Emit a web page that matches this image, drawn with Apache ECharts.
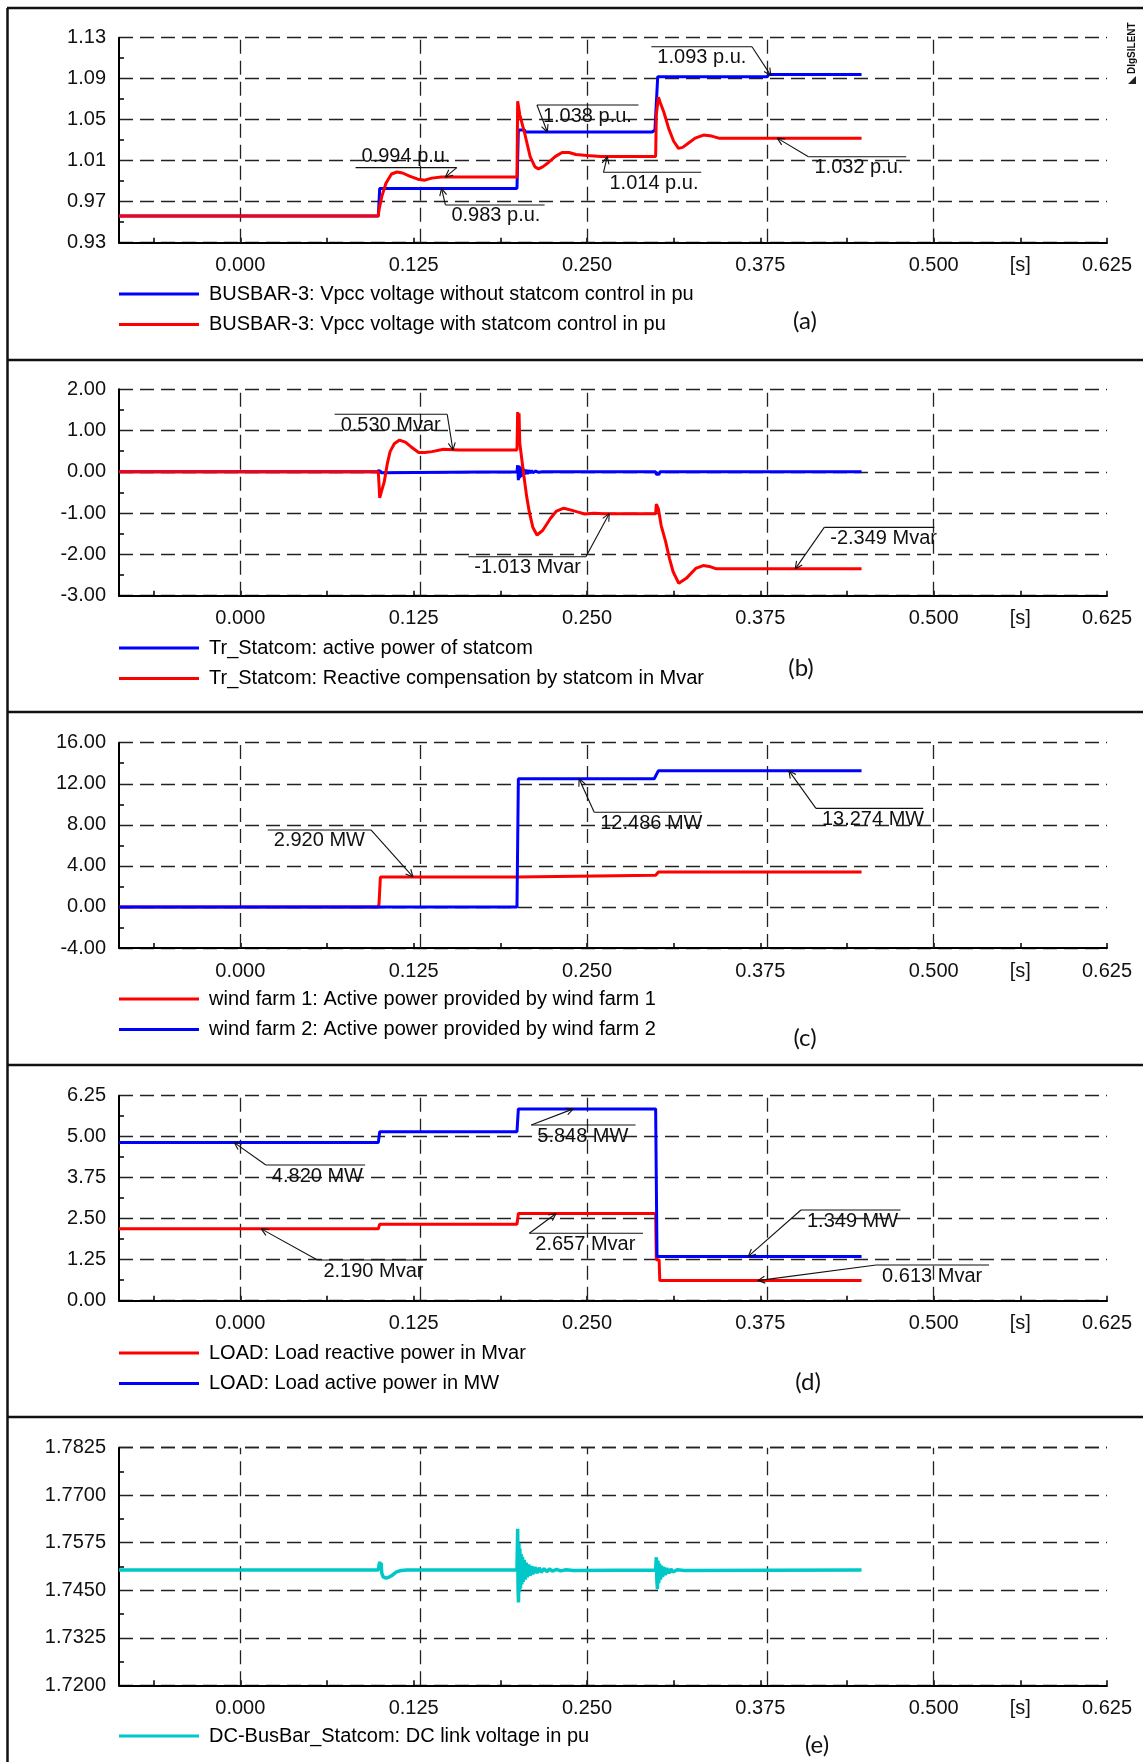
<!DOCTYPE html>
<html><head><meta charset="utf-8">
<script src="https://cdn.jsdelivr.net/npm/echarts@6/dist/echarts.min.js"></script>
<style>html,body{margin:0;padding:0;background:#fff}#c{width:1143px;height:1762px}</style>
</head><body><div id="c"></div>
<script>
// ---------------- data ----------------
const X_MIN = -0.0875, X_MAX = 0.625;
const xLabelValues = [0, 0.125, 0.25, 0.375, 0.5, 0.5625, 0.625];
const xTickValues = [-0.0625, 0, 0.0625, 0.125, 0.1875, 0.25, 0.3125, 0.375, 0.4375, 0.5, 0.5625, 0.625];
const xGridValues = [0, 0.125, 0.25, 0.375, 0.5, 0.625];

const yTicksA = [0.93, 0.97, 1.01, 1.05, 1.09, 1.13];
const yTicksB = [-3, -2, -1, 0, 1, 2];
const yTicksC = [-4, 0, 4, 8, 12, 16];
const yTicksD = [0, 1.25, 2.5, 3.75, 5, 6.25];
const yTicksE = [1.72, 1.7325, 1.745, 1.7575, 1.77, 1.7825];

// (a) BUSBAR-3 voltages
const vpccWithout = [[-0.0875,0.956],[0.0995,0.956],[0.1005,0.983],[0.1995,0.983],[0.2005,1.040],[0.205,1.040],[0.2055,1.038],[0.297,1.038],[0.299,1.040],[0.301,1.092],[0.38,1.092],[0.381,1.094],[0.448,1.094]];
const vpccWith = [[-0.0875,0.956],[0.0995,0.956],[0.1,0.962],[0.102,0.975],[0.105,0.988],[0.109,0.997],[0.113,0.999],[0.117,0.998],[0.122,0.995],[0.128,0.992],[0.133,0.991],[0.138,0.993],[0.145,0.994],[0.1995,0.994],[0.2,1.068],[0.2015,1.055],[0.205,1.037],[0.209,1.014],[0.2125,1.004],[0.215,1.002],[0.218,1.004],[0.222,1.008],[0.227,1.014],[0.232,1.018],[0.237,1.018],[0.242,1.016],[0.25,1.015],[0.26,1.014],[0.2995,1.014],[0.3,1.055],[0.3015,1.072],[0.303,1.066],[0.3055,1.057],[0.309,1.041],[0.3125,1.029],[0.316,1.022],[0.319,1.023],[0.323,1.027],[0.328,1.032],[0.334,1.035],[0.34,1.034],[0.345,1.032],[0.448,1.032]];

// (b) Tr_Statcom
const statcomP = [[-0.0875,0],[0.0995,0],[0.1,0.05],[0.1005,-0.04],[0.101,0.03],[0.1015,-0.02],[0.102,0],[0.1995,0],[0.2,0.16],[0.2005,-0.2],[0.201,0.15],[0.2015,-0.15],[0.202,0.12],[0.2025,-0.12],[0.203,0.1],[0.2035,-0.09],[0.204,0.07],[0.205,-0.06],[0.206,0.05],[0.207,-0.05],[0.208,0.04],[0.209,-0.03],[0.21,0.03],[0.211,-0.02],[0.213,0.02],[0.215,-0.01],[0.217,0],[0.2995,0],[0.3,-0.06],[0.302,-0.06],[0.3025,0],[0.448,0]];
const statcomQ = [[-0.0875,0],[0.0995,0],[0.1,-0.3],[0.1005,-0.63],[0.102,-0.45],[0.1038,-0.24],[0.106,0.2],[0.108,0.49],[0.111,0.68],[0.1148,0.77],[0.119,0.72],[0.123,0.61],[0.1286,0.47],[0.133,0.47],[0.1382,0.49],[0.1465,0.546],[0.157,0.53],[0.1995,0.53],[0.2,1.45],[0.2005,0.9],[0.201,1.42],[0.2015,0.7],[0.203,0.3],[0.2045,-0.1],[0.2065,-0.6],[0.2084,-0.97],[0.211,-1.35],[0.2139,-1.53],[0.218,-1.42],[0.2236,-1.13],[0.228,-0.95],[0.2332,-0.88],[0.238,-0.92],[0.243,-0.97],[0.2483,-1.02],[0.255,-1.0],[0.262,-1.013],[0.2995,-1.013],[0.3,-0.78],[0.3015,-0.9],[0.3035,-1.3],[0.3067,-1.69],[0.3095,-2.1],[0.3121,-2.42],[0.3162,-2.70],[0.3216,-2.58],[0.3284,-2.34],[0.3338,-2.27],[0.3392,-2.30],[0.3433,-2.35],[0.448,-2.349]];

// (c) wind farms
const windFarm1 = [[-0.0875,0],[0.0995,0],[0.1,0.3],[0.101,2.92],[0.1995,2.92],[0.2005,3.08],[0.2995,3.08],[0.3015,3.4],[0.448,3.4]];
const windFarm2 = [[-0.0875,0],[0.1995,0],[0.2005,12.486],[0.2985,12.486],[0.3015,13.274],[0.448,13.274]];

// (d) LOAD
const loadQ = [[-0.0875,2.19],[0.0995,2.19],[0.1005,2.33],[0.1995,2.33],[0.2005,2.657],[0.2995,2.657],[0.3,1.25],[0.302,1.25],[0.3025,0.613],[0.448,0.613]];
const loadP = [[-0.0875,4.82],[0.0995,4.82],[0.1005,5.15],[0.1995,5.15],[0.2005,5.848],[0.2995,5.848],[0.3005,1.349],[0.448,1.349]];

// (e) DC link voltage
const dcLinkV = [[-0.0875,1.7503],[0.0995,1.7503],[0.1,1.7515],[0.1005,1.7525],[0.101,1.751],[0.1015,1.7522],[0.102,1.7495],[0.103,1.7485],[0.105,1.7482],[0.107,1.7484],[0.109,1.7488],[0.111,1.7494],[0.113,1.7499],[0.116,1.7502],[0.12,1.7503],[0.1995,1.7503],
 [0.2,1.7612],[0.2003,1.745],[0.2006,1.7418],[0.2009,1.7575],[0.2012,1.7445],[0.2016,1.756],[0.202,1.7455],[0.2025,1.7545],[0.203,1.7465],[0.2035,1.7538],[0.204,1.7472],[0.2047,1.753],[0.2054,1.7478],[0.2062,1.7523],[0.207,1.7484],[0.208,1.7518],[0.209,1.7488],[0.21,1.7514],[0.211,1.7492],[0.2125,1.7511],[0.214,1.7495],[0.2155,1.7509],[0.217,1.7497],[0.219,1.7507],[0.221,1.7499],[0.223,1.7506],[0.225,1.75],[0.228,1.7505],[0.231,1.7501],[0.235,1.7504],[0.24,1.7502],[0.2995,1.7503],
 [0.3,1.7537],[0.3004,1.7475],[0.3008,1.7453],[0.3012,1.7528],[0.3017,1.7468],[0.3023,1.752],[0.303,1.7478],[0.3037,1.7515],[0.3045,1.7485],[0.3055,1.7511],[0.3065,1.749],[0.3075,1.7508],[0.309,1.7495],[0.3105,1.7506],[0.312,1.7498],[0.315,1.7504],[0.32,1.7502],[0.448,1.7503]];

// value annotations: [panel, text, point on curve [t,v], knee [t,v], underline other end t, side]
const annotations = [
 [0,'0.994 p.u.',[0.1479,0.994],[0.1561,1.0032],0.0831,'above'],
 [0,'0.983 p.u.',[0.1451,0.983],[0.1479,0.9668],0.2194,'below'],
 [0,'1.038 p.u.',[0.2214,1.038],[0.2139,1.0643],0.2871,'below'],
 [0,'1.014 p.u.',[0.2646,1.014],[0.2619,0.9987],0.3324,'below'],
 [0,'1.093 p.u.',[0.3826,1.093],[0.369,1.1212],0.2964,'below'],
 [0,'1.032 p.u.',[0.3872,1.032],[0.4097,1.0139],0.4802,'below'],
 [1,'0.530 Mvar',[0.1533,0.53],[0.1492,1.394],0.068,'below'],
 [1,'-1.013 Mvar',[0.266,-1.013],[0.2492,-2.056],0.1644,'below'],
 [1,'-2.349 Mvar',[0.4002,-2.349],[0.4211,-1.344],0.5005,'below'],
 [2,'2.920 MW',[0.1245,2.92],[0.0942,7.5],0.0198,'below'],
 [2,'12.486 MW',[0.2443,12.486],[0.2552,9.22],0.3324,'below'],
 [2,'13.274 MW',[0.3956,13.274],[0.4151,9.6],0.4924,'below'],
 [3,'4.820 MW',[-0.0044,4.82],[0.0184,4.137],0.09,'below'],
 [3,'2.190 Mvar',[0.0151,2.19],[0.0556,1.24],0.1341,'below'],
 [3,'5.848 MW',[0.2401,5.848],[0.2098,5.357],0.285,'below'],
 [3,'2.657 Mvar',[0.2277,2.657],[0.2084,2.055],0.2904,'below'],
 [3,'1.349 MW',[0.3663,1.349],[0.4043,2.765],0.4761,'below'],
 [3,'0.613 Mvar',[0.3731,0.613],[0.4585,1.088],0.5399,'below']
];

// ---------------- layout / style ----------------
const FONT = '"Liberation Sans", Arial, sans-serif';
const panels = [
 {top:37.7, height:205, ticks:yTicksA, digits:2, legendTop:284, tag:'(a)', tagPos:[805,321], lw:3,
  series:[{name:'BUSBAR-3: Vpcc voltage without statcom control in pu', data:vpccWithout, color:'#0000ff'},
          {name:'BUSBAR-3: Vpcc voltage with statcom control in pu', data:vpccWith, color:'#ff0000'}]},
 {top:389.3, height:206.4, ticks:yTicksB, digits:2, legendTop:638, tag:'(b)', tagPos:[801,668], lw:3,
  series:[{name:'Tr_Statcom: active power of statcom', data:statcomP, color:'#0000ff'},
          {name:'Tr_Statcom: Reactive compensation by statcom in Mvar', data:statcomQ, color:'#ff0000'}]},
 {top:742.7, height:205.3, ticks:yTicksC, digits:2, legendTop:989, tag:'(c)', tagPos:[805,1038], lw:3,
  series:[{name:'wind farm 1: Active power provided by wind farm 1', data:windFarm1, color:'#ff0000'},
          {name:'wind farm 2: Active power provided by wind farm 2', data:windFarm2, color:'#0000ff'}]},
 {top:1095.7, height:205, ticks:yTicksD, digits:2, legendTop:1343, tag:'(d)', tagPos:[808,1382], lw:3,
  series:[{name:'LOAD: Load reactive power in Mvar', data:loadQ, color:'#ff0000'},
          {name:'LOAD: Load active power in MW', data:loadP, color:'#0000ff'}]},
 {top:1447.7, height:237.6, ticks:yTicksE, digits:4, legendTop:1726, tag:'(e)', tagPos:[817,1745], lw:3.5,
  series:[{name:'DC-BusBar_Statcom: DC link voltage in pu', data:dcLinkV, color:'#00c8c8'}]}
];

const gridDash = {type:[14,7], color:'#222', width:1.3};
const grids = [], xAxes = [], yAxes = [], series = [], legends = [];
panels.forEach((p, i) => {
  grids.push({left:119, right:36, top:p.top, height:p.height});
  xAxes.push({
    gridIndex:i, type:'value', min:X_MIN, max:X_MAX,
    axisLine:{show:true, onZero:false, lineStyle:{color:'#000', width:2}},
    axisTick:{show:true, inside:true, length:5, customValues:xTickValues, lineStyle:{color:'#000', width:1.5}},
    axisLabel:{customValues:xLabelValues, margin:13, fontSize:20, fontFamily:FONT, color:'#111',
      formatter:v => Math.abs(v-0.5625) < 1e-9 ? '[s]' : v.toFixed(3)},
    splitLine:{show:false}
  });
  const iv = p.ticks[1] - p.ticks[0];
  yAxes.push({
    gridIndex:i, type:'value', min:p.ticks[0], max:p.ticks[p.ticks.length-1], interval:iv,
    axisLine:{show:true, onZero:false, lineStyle:{color:'#000', width:2}},
    axisTick:{show:false, inside:true},
    minorTick:{show:true, splitNumber:2, length:5, lineStyle:{color:'#000', width:1.5}},
    axisLabel:{margin:13, fontSize:20, fontFamily:FONT, color:'#111', formatter:v => v.toFixed(p.digits)},
    splitLine:{show:true, lineStyle:gridDash}
  });
  p.series.forEach((s, k) => {
    const ser = {
      type:'line', name:s.name, xAxisIndex:i, yAxisIndex:i, data:s.data,
      showSymbol:false, symbol:'none', animation:false, z:3,
      lineStyle:{color:s.color, width:p.lw}, itemStyle:{color:s.color}
    };
    if (k === 0) {
      ser.markLine = {silent:true, symbol:['none','none'], label:{show:false}, z:1, animation:false,
        lineStyle:gridDash, emphasis:{disabled:true},
        data: xGridValues.map(v => ({xAxis:v}))};
    }
    series.push(ser);
  });
  legends.push({
    left:119, top:p.legendTop, padding:0, orient:'vertical', icon:'rect', itemWidth:80, itemHeight:3, itemGap:10.5,
    selectedMode:false, data:p.series.map(s => s.name),
    textStyle:{fontSize:20, lineHeight:20, fontFamily:FONT, color:'#000', padding:[0,0,0,5]}
  });
});

const chart = echarts.init(document.getElementById('c'), null, {renderer:'canvas'});
chart.setOption({
  backgroundColor:'#fff', animation:false,
  grid:grids, xAxis:xAxes, yAxis:yAxes, series:series, legend:legends
});

// ---------------- graphics: frame, tags, annotations ----------------
const g = [];
const stroke = {stroke:'#111', lineWidth:2.5};
[8, 360, 712, 1065, 1417].forEach(y => g.push({type:'line', silent:true, shape:{x1:7, y1:y, x2:1143, y2:y}, style:stroke, z:50}));
g.push({type:'line', silent:true, shape:{x1:7.5, y1:8, x2:7.5, y2:1762}, style:stroke, z:50});
panels.forEach(p => g.push({type:'text', silent:true, x:p.tagPos[0], y:p.tagPos[1], z:50,
  style:{text:p.tag, fontSize:24, fontFamily:'Lato, "Open Sans", sans-serif', fill:'#111', align:'center', verticalAlign:'middle'}}));
g.push({type:'text', silent:true, x:1132, y:74, rotation:Math.PI/2, z:50,
  style:{text:'DIgSILENT', fontSize:10, fontWeight:'bold', fontFamily:FONT, fill:'#111', align:'left', verticalAlign:'middle'}});
g.push({type:'polygon', silent:true, z:50, shape:{points:[[1136,76],[1136,84],[1128,84]]}, style:{fill:'#222'}});

annotations.forEach(a => {
  const [gi, text, pt, knee, endT, side] = a;
  const P = chart.convertToPixel({gridIndex:gi}, pt);
  const K = chart.convertToPixel({gridIndex:gi}, knee);
  const E = chart.convertToPixel({gridIndex:gi}, [endT, knee[1]]);
  const ls = {stroke:'#111', lineWidth:1.1};
  g.push({type:'line', silent:true, z:60, shape:{x1:K[0], y1:K[1], x2:E[0], y2:E[1]}, style:ls});
  g.push({type:'line', silent:true, z:60, shape:{x1:K[0], y1:K[1], x2:P[0], y2:P[1]}, style:ls});
  const ang = Math.atan2(K[1]-P[1], K[0]-P[0]);
  [0.45, -0.45].forEach(d => g.push({type:'line', silent:true, z:60,
    shape:{x1:P[0], y1:P[1], x2:P[0]+8*Math.cos(ang+d), y2:P[1]+8*Math.sin(ang+d)}, style:ls}));
  const left = Math.min(K[0], E[0]) + 6;
  g.push({type:'text', silent:true, z:60, x:left, y: side === 'above' ? K[1]-1 : K[1]+1,
    style:{text:text, fontSize:20, fontFamily:FONT, fill:'#111', align:'left', verticalAlign: side === 'above' ? 'bottom' : 'top'}});
});
chart.setOption({graphic:{elements:g}});
</script></body></html>
